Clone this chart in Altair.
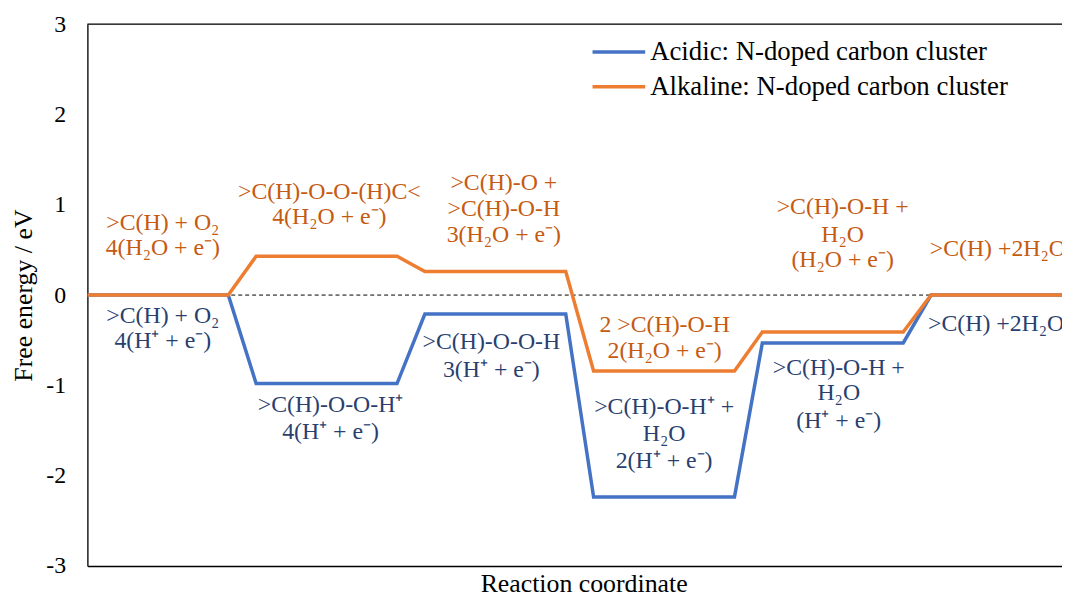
import altair as alt
import pandas as pd

# ---- data ----
series_names = ["Acidic: N-doped carbon cluster", "Alkaline: N-doped carbon cluster"]
coord = [0, 0.835, 1.0, 1.835, 2.0, 2.835, 3.0, 3.835, 4.0, 4.835, 5.0, 5.776]
acidic = [0, 0, -0.98, -0.98, -0.21, -0.21, -2.235, -2.235, -0.53, -0.53, 0, 0]
alkaline = [0, 0, 0.43, 0.43, 0.26, 0.26, -0.84, -0.84, -0.41, -0.41, 0, 0]

orange_text = [">C(H) + O₂", "4(H₂O + e⁻)",
               ">C(H)-O-O-(H)C<", "4(H₂O + e⁻)",
               ">C(H)-O +", ">C(H)-O-H", "3(H₂O + e⁻)",
               "2 >C(H)-O-H", "2(H₂O + e⁻)",
               ">C(H)-O-H +", "H₂O", "(H₂O + e⁻)"]
orange_x = [0.447, 0.447, 1.434, 1.434, 2.468, 2.468, 2.468, 3.421, 3.421, 4.476, 4.476, 4.476]
orange_y = [0.795, 0.524, 1.146, 0.860, 1.245, 0.953, 0.659, -0.330, -0.623, 0.970, 0.659, 0.385]

blue_text = [">C(H) + O₂", "4(H⁺ + e⁻)",
             ">C(H)-O-O-H⁺", "4(H⁺ + e⁻)",
             ">C(H)-O-O-H", "3(H⁺ + e⁻)",
             ">C(H)-O-H⁺ +", "H₂O", "2(H⁺ + e⁻)",
             ">C(H)-O-H +", "H₂O", "(H⁺ + e⁻)"]
blue_x = [0.447, 0.447, 1.441, 1.441, 2.394, 2.394, 3.418, 3.418, 3.418, 4.453, 4.453, 4.453]
blue_y = [-0.231, -0.513, -1.220, -1.520, -0.524, -0.835, -1.245, -1.538, -1.843, -0.805, -1.088, -1.392]

final_text = [">C(H) +2H₂O", ">C(H) +2H₂O"]
final_x = [4.992, 4.982]
final_y = [0.513, -0.319]

zero_level = [0]
top_level = [3]
y_ticks = [-3, -2, -1, 0, 1, 2, 3]

FONT = "Liberation Serif"
BLUE = "#4472C4"
ORANGE = "#ED7D31"
BLUE_TXT = "#2A3F6F"
ORANGE_TXT = "#C55A11"

x_scale = alt.Scale(domain=[0, 5.776], nice=False, zero=False)
y_scale = alt.Scale(domain=[-3, 3], nice=False, zero=False)

lines_df = pd.DataFrame({
    "coord": coord * 2,
    "energy": acidic + alkaline,
    "series": [series_names[0]] * len(coord) + [series_names[1]] * len(coord),
})

x_axis = alt.Axis(title="Reaction coordinate", labels=False, ticks=False, grid=False,
                  domainColor="black", domainWidth=1.3,
                  titleFont=FONT, titleFontSize=26, titleFontWeight="normal",
                  titleColor="black", titlePadding=5, titleX=500)
y_axis = alt.Axis(values=y_ticks, title="Free energy / eV", grid=False, ticks=False,
                  tickSize=0, labelPadding=22, labelFont=FONT, labelFontSize=24,
                  labelExpr="datum.value + ''",
                  labelColor="black", domainColor="black", domainWidth=1.3,
                  titleFont=FONT, titleFontSize=26, titleFontWeight="normal",
                  titleColor="black", titleX=-64, titleBaseline="middle")

zero_rule = alt.Chart(pd.DataFrame({"energy": zero_level})).mark_rule(
    color="black", strokeWidth=1, strokeDash=[4, 3]
).encode(y=alt.Y("energy:Q", scale=y_scale, axis=y_axis))

top_rule = alt.Chart(pd.DataFrame({"energy": top_level})).mark_rule(
    color="black", strokeWidth=1.3
).encode(y=alt.Y("energy:Q", scale=y_scale))

lines = alt.Chart(lines_df).mark_line(strokeWidth=3.5, clip=True).encode(
    x=alt.X("coord:Q", scale=x_scale, axis=x_axis),
    y=alt.Y("energy:Q", scale=y_scale),
    color=alt.Color("series:N",
                    scale=alt.Scale(domain=series_names, range=[BLUE, ORANGE]),
                    legend=alt.Legend(orient="none", legendX=522, legendY=14.5, title=None,
                                      symbolType="M-2.5,0L2.5,0", symbolSize=450,
                                      symbolStrokeWidth=3.5, labelFont=FONT,
                                      labelFontSize=27, labelColor="black",
                                      labelOffset=18, rowPadding=7, padding=0,
                                      labelLimit=0)),
)

def text_layer(texts, xs, ys, color, align):
    df = pd.DataFrame({"coord": xs, "energy": ys, "label": texts})
    return alt.Chart(df).mark_text(font=FONT, fontSize=24, color=color,
                                   align=align, baseline="middle", clip=True).encode(
        x=alt.X("coord:Q", scale=x_scale),
        y=alt.Y("energy:Q", scale=y_scale),
        text="label:N",
    )

orange_layer = text_layer(orange_text, orange_x, orange_y, ORANGE_TXT, "center")
blue_layer = text_layer(blue_text, blue_x, blue_y, BLUE_TXT, "center")
final_orange = text_layer(final_text[:1], final_x[:1], final_y[:1], ORANGE_TXT, "left")
final_blue = text_layer(final_text[1:], final_x[1:], final_y[1:], BLUE_TXT, "left")

chart = alt.layer(zero_rule, top_rule, lines, orange_layer, blue_layer,
                  final_orange, final_blue).properties(
    width=982, height=546,
    padding={"left": 80, "top": 14, "right": 0, "bottom": 31},
    autosize=alt.AutoSizeParams(type="none"),
).configure_view(stroke=None).configure(background="white")

chart.save("out.html", embed_options={"renderer": "svg", "actions": False})
